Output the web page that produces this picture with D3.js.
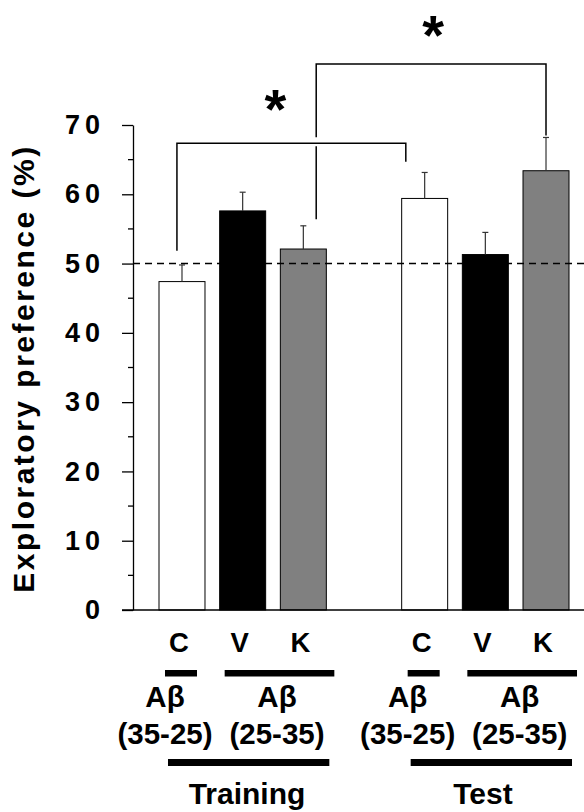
<!DOCTYPE html>
<html>
<head>
<meta charset="utf-8">
<script src="https://cdn.jsdelivr.net/npm/d3@7"></script>
<style>
  html, body { margin: 0; padding: 0; background: #fff; }
  svg { display: block; font-family: "Liberation Sans", Arial, sans-serif; font-weight: bold; }
</style>
</head>
<body>
<svg id="chart" width="584" height="812"></svg>
<script>
// Exploratory preference (%) per treatment, training and test sessions
const phases = ["Training", "Test"];
const conditions = ["C", "V", "K"];
const trainingMean = [47.4, 57.6, 52.1];
const trainingSem = [2.4, 2.7, 3.35];
const testMean = [59.4, 51.3, 63.4];
const testSem = [3.75, 3.2, 4.8];
const conditionFill = ["#ffffff", "#000000", "#808080"];
const yTicks = [0, 10, 20, 30, 40, 50, 60, 70];
const yMinorTicks = [5, 15, 25, 35, 45, 55, 65];
const chanceLevel = 50;
const peptideLabels = ["(35-25)", "(25-35)"];

// Significance brackets between bars (bar index 0-5), heights in % units
const brackets = [
  { from: 0, to: 3, y0: 51.85, top: 67.35, y1: 64.7, dxFrom: -0.11, dxTo: -0.41, starDx: -16, starDy: -41 },
  { from: 2, to: 5, y0: 56.4, top: 78.8, y1: 68.5, dxFrom: 0.28, dxTo: 0, starDx: 2, starDy: -36 }
];

const bars = [];
phases.forEach((p, pi) => {
  const m = pi === 0 ? trainingMean : testMean;
  const s = pi === 0 ? trainingSem : testSem;
  conditions.forEach((c, ci) => {
    bars.push({ phase: p, cond: c, ci, slot: pi * 4 + ci, mean: m[ci], sem: s[ci] });
  });
});

const svg = d3.select("#chart");

// seven slots: three bars per phase with an empty slot between phases
const x = d3.scaleBand()
  .domain(d3.range(7))
  .range([159, 569])
  .paddingInner(0.242)
  .paddingOuter(0);

const y = d3.scaleLinear().domain([0, 70]).range([610, 125]);
const axisX = 133;
const cx = slot => x(slot) + x.bandwidth() / 2;
const barX = i => cx(bars[i].slot);

// bars
svg.append("g").selectAll("rect").data(bars).join("rect")
  .attr("x", d => x(d.slot))
  .attr("y", d => y(d.mean))
  .attr("width", x.bandwidth())
  .attr("height", d => y(0) - y(d.mean))
  .attr("fill", d => conditionFill[d.ci])
  .attr("stroke", "#000")
  .attr("stroke-width", 1);

// error bars (upper only)
const eb = svg.append("g").attr("stroke", "#333").attr("stroke-width", 1.2);
eb.selectAll("line.v").data(bars).join("line").attr("class", "v")
  .attr("x1", d => cx(d.slot)).attr("x2", d => cx(d.slot))
  .attr("y1", d => y(d.mean)).attr("y2", d => y(d.mean + d.sem));
eb.selectAll("line.c").data(bars).join("line").attr("class", "c")
  .attr("x1", d => cx(d.slot) - 3).attr("x2", d => cx(d.slot) + 3)
  .attr("y1", d => y(d.mean + d.sem)).attr("y2", d => y(d.mean + d.sem));

// chance level
svg.append("line")
  .attr("x1", axisX).attr("x2", 584)
  .attr("y1", y(chanceLevel)).attr("y2", y(chanceLevel))
  .attr("stroke", "#000").attr("stroke-width", 1.6)
  .attr("stroke-dasharray", "7,5");

// y axis with major and minor ticks
const yAxis = svg.append("g")
  .attr("transform", `translate(${axisX},0)`)
  .call(d3.axisLeft(y).tickValues(yTicks).tickSize(11).tickSizeOuter(0).tickPadding(17));
yAxis.select(".domain").attr("stroke", "#000").attr("stroke-width", 1.3);
yAxis.selectAll(".tick line").attr("stroke", "#000").attr("stroke-width", 1.3);
yAxis.selectAll(".tick text")
  .attr("font-family", "Liberation Sans, Arial, sans-serif")
  .attr("font-weight", "bold")
  .attr("font-size", 27)
  .attr("letter-spacing", 5)
  .attr("fill", "#000");
svg.append("g").attr("transform", `translate(${axisX},0)`)
  .selectAll("line").data(yMinorTicks).join("line")
  .attr("x1", -5).attr("x2", 0)
  .attr("y1", d => y(d)).attr("y2", d => y(d))
  .attr("stroke", "#000").attr("stroke-width", 1.3);

// x baseline
svg.append("line")
  .attr("x1", 122).attr("x2", 584)
  .attr("y1", y(0)).attr("y2", y(0))
  .attr("stroke", "#000").attr("stroke-width", 1.5);

// y axis title
svg.append("text")
  .attr("transform", `translate(34,${(125 + 610) / 2 + 1}) rotate(-90)`)
  .attr("text-anchor", "middle")
  .attr("font-size", 30)
  .attr("letter-spacing", 2.5)
  .text("Exploratory preference (%)");

// significance brackets
const br = svg.append("g").attr("stroke", "#000").attr("stroke-width", 1.5).attr("fill", "none");
brackets.forEach((b, i) => {
  const xa = barX(b.from) + b.dxFrom * x.bandwidth();
  const xb = barX(b.to) + b.dxTo * x.bandwidth();
  b.mid = (xa + xb) / 2;
  if (i === 0) {
    br.append("path").attr("d", `M${xa},${y(b.y0)}V${y(b.top)}H${xb}V${y(b.y1)}`);
  } else {
    // left leg is broken where it crosses the lower bracket
    const cross = y(brackets[0].top);
    br.append("path").attr("d", `M${xa},${y(b.y0)}V${cross + 3}`);
    br.append("path").attr("d", `M${xa},${cross - 6}V${y(b.top)}H${xb}V${y(b.y1)}`);
  }
});
svg.append("g").selectAll("text").data(brackets).join("text")
  .attr("x", d => d.mid + d.starDx)
  .attr("y", d => y(d.top) + d.starDy + 26)
  .attr("text-anchor", "middle")
  .attr("font-size", 56)
  .text("*");

// condition letters
svg.append("g").selectAll("text").data(bars).join("text")
  .attr("x", d => cx(d.slot) - 3)
  .attr("y", 652)
  .attr("text-anchor", "middle")
  .attr("font-size", 27.5)
  .text(d => d.cond);

// peptide groups per phase
const groupRows = [];
phases.forEach((p, pi) => {
  groupRows.push({ phase: pi, x0: cx(pi * 4) - 17, x1: cx(pi * 4) + 15, label: peptideLabels[0] });
  groupRows.push({ phase: pi, x0: cx(pi * 4 + 1) - 18, x1: cx(pi * 4 + 2) + 31, label: peptideLabels[1] });
});
svg.append("g").selectAll("rect").data(groupRows).join("rect")
  .attr("x", d => d.x0).attr("width", d => d.x1 - d.x0)
  .attr("y", 670).attr("height", 6.5)
  .attr("fill", "#000");

const gl = svg.append("g").attr("font-size", 29.5).attr("text-anchor", "middle");
const labelX = (d, i) => i % 2 === 0 ? cx(d.phase * 4) - 17 : (cx(d.phase * 4 + 1) + cx(d.phase * 4 + 2)) / 2 + 4;
gl.selectAll("text.ab").data(groupRows).join("text").attr("class", "ab")
  .attr("x", labelX).attr("y", 707)
  .text("A\u03b2");
gl.selectAll("text.seq").data(groupRows).join("text").attr("class", "seq")
  .attr("x", labelX).attr("y", 744)
  .text(d => d.label);

// phase bars and names
const phaseRows = phases.map((p, pi) => ({ name: p, x0: cx(pi * 4) - 14, x1: cx(pi * 4 + 2) + 26 }));
svg.append("g").selectAll("rect").data(phaseRows).join("rect")
  .attr("x", d => d.x0).attr("width", d => d.x1 - d.x0)
  .attr("y", 759).attr("height", 7)
  .attr("fill", "#000");
svg.append("g").attr("font-size", 30).attr("text-anchor", "middle")
  .selectAll("text").data(phaseRows).join("text")
  .attr("x", (d, i) => i === 0 ? 247 : 483)
  .attr("y", 804)
  .text(d => d.name);
</script>
</body>
</html>
